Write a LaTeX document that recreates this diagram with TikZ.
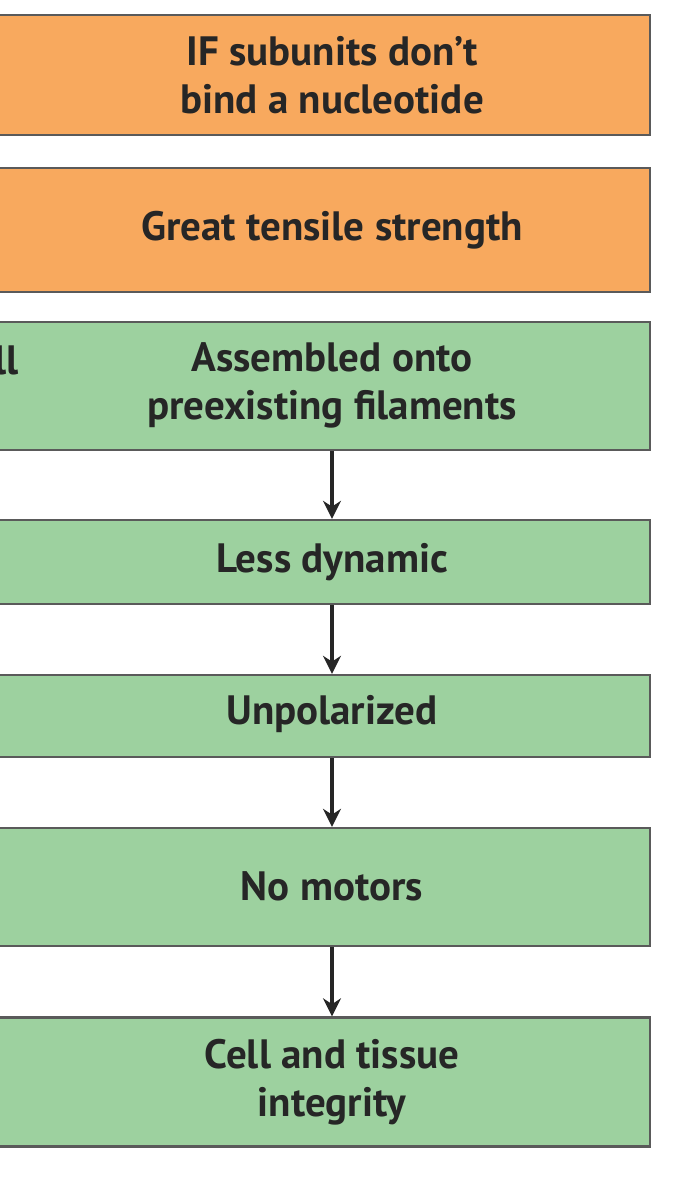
\documentclass[tikz,border=0pt]{standalone}
\usepackage{fontspec}
\setmainfont{PT Sans}
\usetikzlibrary{arrows.meta}
\definecolor{orng}{HTML}{F8A95E}
\definecolor{grn}{HTML}{9DD19F}
\definecolor{edge}{HTML}{5A5A5A}
\begin{document}
\begin{tikzpicture}[x=1pt,y=-1pt,
  box/.style={draw=edge,line width=2.4pt,minimum width=680pt,inner sep=0pt},
  lbl/.style={font=\bfseries\fontsize{41}{48}\selectfont,align=center,text=black!85},
  arr/.style={-{Stealth[length=18pt,width=18pt]},line width=3.8pt,black!85}]
\clip (0,0) rectangle (677,1200);
\fill[white] (0,0) rectangle (677,1200);
\node[box,fill=orng,minimum height=120pt] (b1) at (310,75) {};
\node[box,fill=orng,minimum height=124pt] (b2) at (310,230) {};
\node[box,fill=grn,minimum height=128pt] (b3) at (310,386) {};
\node[box,fill=grn,minimum height=84pt] (b4) at (310,562) {};
\node[box,fill=grn,minimum height=82pt] (b5) at (310,716) {};
\node[box,fill=grn,minimum height=118pt] (b6) at (310,887) {};
\node[box,fill=grn,minimum height=129pt] (b7) at (310,1082) {};
\node[lbl] (t1) at (332,75) {IF subunits don't\\bind a nucleotide};
\node[lbl] (t2) at (332,230) {Great tensile strength};
\node[lbl] (t3) at (332,385) {Assembled onto\\preexisting filaments};
\node[lbl] (t4) at (332,562) {Less dynamic};
\node[lbl] (t5) at (332,714) {Unpolarized};
\node[lbl] (t6) at (332,886) {No motors};
\node[lbl] (t7) at (332,1082) {Cell and tissue\\integrity};
\node[lbl,anchor=east] (part) at (22,360) {ll};
\draw[arr] (t3 |- b3.south) -- (t3 |- b4.north);
\draw[arr] (t3 |- b4.south) -- (t3 |- b5.north);
\draw[arr] (t3 |- b5.south) -- (t3 |- b6.north);
\draw[arr] (t3 |- b6.south) -- (t3 |- b7.north);
\end{tikzpicture}
\end{document}
